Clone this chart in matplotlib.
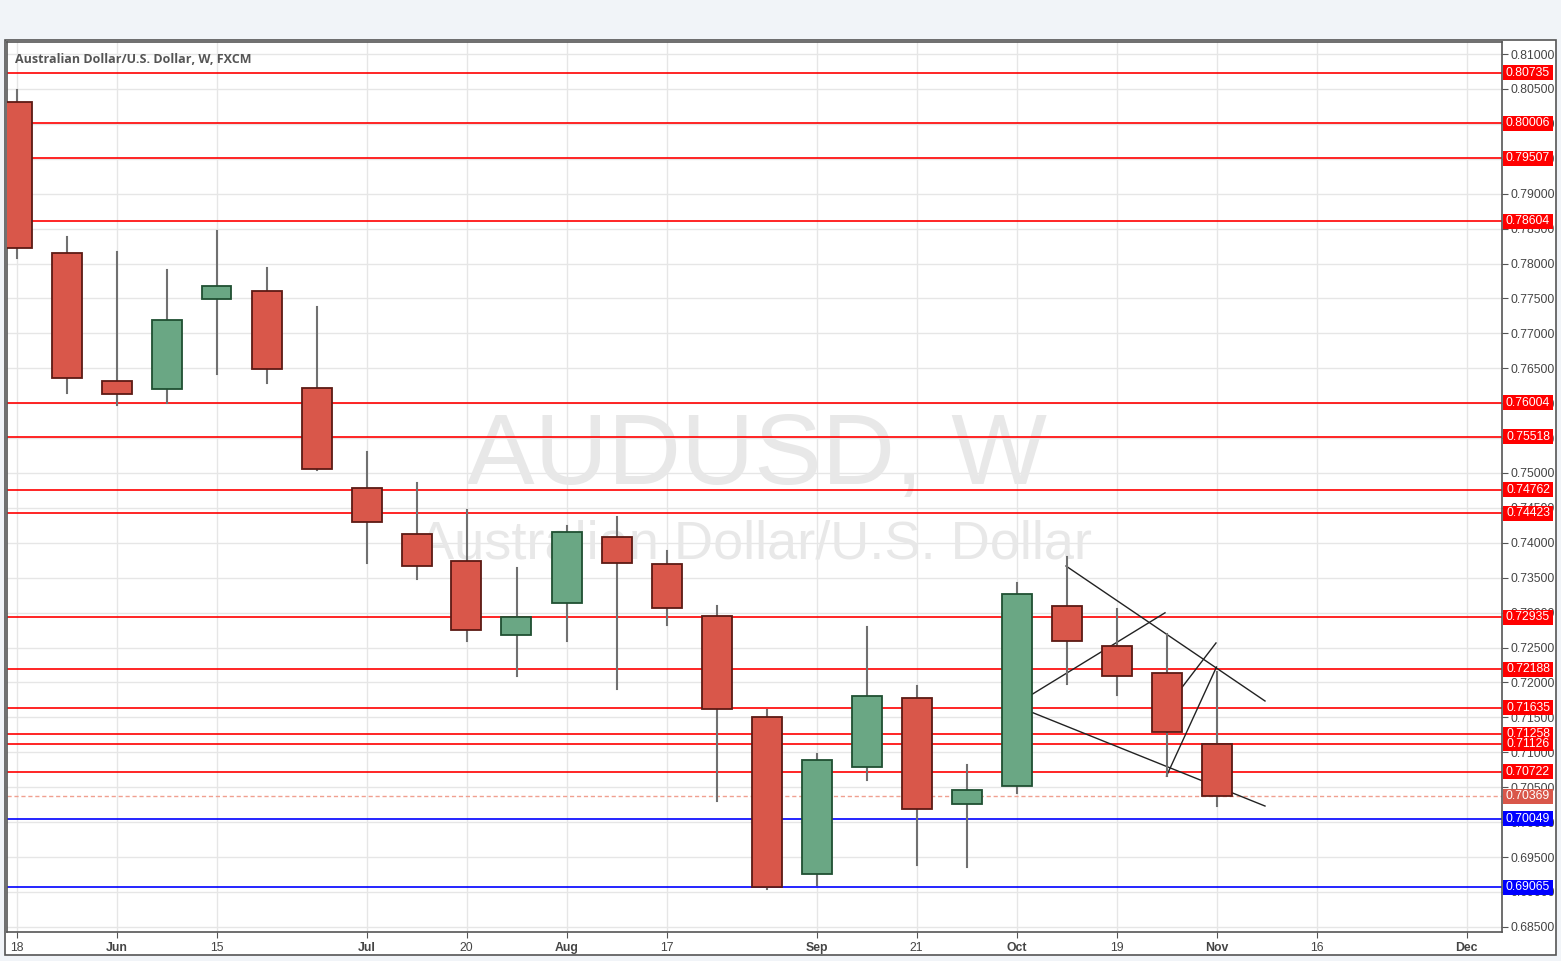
import matplotlib
matplotlib.use("Agg")
import matplotlib.pyplot as plt
from matplotlib.patches import Rectangle
import matplotlib.transforms as mtransforms

W, H = 1561, 961

# weekly candles, AUD/USD, starting week of May 18
opens = [0.80313, 0.78150, 0.76317, 0.76203, 0.77492, 0.77606, 0.76217, 0.74785,
         0.74126, 0.73740, 0.72680, 0.73138, 0.74083, 0.73697, 0.72952, 0.71506,
         0.69258, 0.70790, 0.71778, 0.70260, 0.70518, 0.73095, 0.72522, 0.72136,
         0.71119]
highs = [0.80484, 0.78379, 0.78165, 0.77907, 0.78465, 0.77936, 0.77377, 0.75301,
         0.74857, 0.74470, 0.73640, 0.74241, 0.74370, 0.73883, 0.73095, 0.71606,
         0.70976, 0.72795, 0.71950, 0.70818, 0.73425, 0.73797, 0.73052, 0.72694,
         0.72150]
lows = [0.78079, 0.76146, 0.75974, 0.76003, 0.76418, 0.76289, 0.75043, 0.73711,
        0.73482, 0.72594, 0.72095, 0.72594, 0.71909, 0.72823, 0.70303, 0.69043,
        0.69100, 0.70604, 0.69387, 0.69358, 0.70417, 0.71978, 0.71821, 0.70661,
        0.70231]
closes = [0.78222, 0.76360, 0.76131, 0.77191, 0.77678, 0.76489, 0.75057, 0.74298,
          0.73668, 0.72752, 0.72938, 0.74155, 0.73711, 0.73067, 0.71620, 0.69071,
          0.70890, 0.71807, 0.70189, 0.70460, 0.73267, 0.72594, 0.72093, 0.71291,
          0.70369]

red_levels = [0.80735, 0.80006, 0.79507, 0.78604, 0.76004, 0.75518, 0.74762,
              0.74423, 0.72935, 0.72188, 0.71635, 0.71258, 0.71126, 0.70722]
blue_levels = [0.70049, 0.69065]
last_price = 0.70369

tick_pos = [0, 2, 4, 7, 9, 11, 13, 16, 18, 20, 22, 24, 26, 29]
tick_lab = ['18', 'Jun', '15', 'Jul', '20', 'Aug', '17', 'Sep', '21', 'Oct',
            '19', 'Nov', '16', 'Dec']

# drawn trend lines (week index, price)
trend_lines = [
    ([20.99, 24.97], [0.73668, 0.71735]),
    ([20.29, 22.97], [0.71821, 0.72998]),
    ([20.29, 24.97], [0.71578, 0.70231]),
    ([23.07, 23.99], [0.71706, 0.72566]),
    ([23.00, 24.00], [0.70661, 0.72222]),
]

fig = plt.figure(figsize=(W / 100, H / 100), dpi=100, facecolor='#f1f4f8')
# outer white panel
fig.patches.append(Rectangle((5 / W, 1 - 955 / H), 1551 / W, 915 / H,
                             transform=fig.transFigure, facecolor='white',
                             edgecolor='#555555', lw=1.2, zorder=-1))

ax_w, ax_h = 1502 - 7, 932 - 42
ax = fig.add_axes([7 / W, 1 - 932 / H, ax_w / W, ax_h / H])
ax.set_zorder(1)
ax.set_facecolor('white')
ax.set_xlim(-0.19, 29.71)
ax.set_ylim(0.68427, 0.81172)

yt = [0.685 + 0.005 * i for i in range(26)]
ax.set_yticks(yt)
ax.set_yticklabels(['%.5f' % v for v in yt])
ax.yaxis.tick_right()
ax.set_xticks(tick_pos)
ax.set_xticklabels(tick_lab)
for lab in ax.get_xticklabels():
    if not lab.get_text().isdigit():
        lab.set_fontweight('bold')
ax.tick_params(axis='both', colors='#555555', labelcolor='#444444',
               labelsize=8.8, length=4, width=0.8)
ax.tick_params(axis='x', pad=3)
ax.tick_params(axis='y', pad=2)
for lab in ax.get_xticklabels() + ax.get_yticklabels():
    lab.set_family('Liberation Sans')
ax.grid(True, color='#e6e6e6', lw=1)
ax.set_axisbelow(True)
for s in ax.spines.values():
    s.set_color('#555555')
    s.set_linewidth(1.2)

# watermark, placed in figure pixels but drawn inside the axes
to_ax = fig.transFigure + ax.transAxes.inverted()
wx, wy = to_ax.transform((757 / W, 1 - 458 / H))
ax.text(wx, wy, 'AUDUSD, W', fontsize=73, color='#e8e8e8',
        ha='center', va='center', family='Liberation Sans', zorder=1,
        transform=ax.transAxes)
wx, wy = to_ax.transform((755 / W, 1 - 545 / H))
ax.text(wx, wy, 'Australian Dollar/U.S. Dollar', fontsize=39,
        color='#e8e8e8', ha='center', va='center', family='Liberation Sans',
        zorder=1, transform=ax.transAxes)

# levels
for p in red_levels:
    ax.axhline(p, color='#ff0000', lw=1.2, zorder=2)
for p in blue_levels:
    ax.axhline(p, color='#0000ff', lw=1.2, zorder=2)
ax.axhline(last_price, color='#f0a090', lw=1, ls=(0, (3, 2)), zorder=2)

for xs, ys in trend_lines:
    ax.plot(xs, ys, color='#222222', lw=1, zorder=2.5)

# candles
bw = 0.6
for i in range(len(opens)):
    o, h, l, c = opens[i], highs[i], lows[i], closes[i]
    up = c >= o
    fc = '#6aa784' if up else '#d9574a'
    ec = '#1f4f31' if up else '#5c1a14'
    ax.plot([i, i], [l, h], color='#707070', lw=1.5, zorder=3)
    ax.add_patch(Rectangle((i - bw / 2, min(o, c)), bw, abs(c - o),
                           facecolor=fc, edgecolor=ec, lw=1.3, zorder=4))

# price labels on the right axis: 50 x 15 px boxes
trans = mtransforms.blended_transform_factory(ax.transAxes, ax.transData)
box_w = 50 / ax_w
box_h = 15 * (0.81172 - 0.68427) / ax_h
def price_box(p, color):
    ax.add_patch(Rectangle((1.0007, p - box_h / 2), box_w, box_h,
                           transform=trans, facecolor=color, edgecolor='none',
                           clip_on=False, zorder=9))
    ax.text(1.0007 + box_w / 2, p, '%.5f' % p, transform=trans, ha='center',
            va='center', fontsize=8.8, color='white', family='Liberation Sans',
            zorder=10, clip_on=False)

for p in red_levels:
    price_box(p, '#ff0000')
for p in blue_levels:
    price_box(p, '#0000ff')
price_box(last_price, '#d9574a')

ax.text(*to_ax.transform((15 / W, 1 - 60 / H)),
        'Australian Dollar/U.S. Dollar, W, FXCM', transform=ax.transAxes,
        fontsize=9, fontweight='bold', color='#555555', va='center',
        ha='left', family='Open Sans', zorder=11)

fig.savefig('out.png', dpi=100, facecolor=fig.get_facecolor())
